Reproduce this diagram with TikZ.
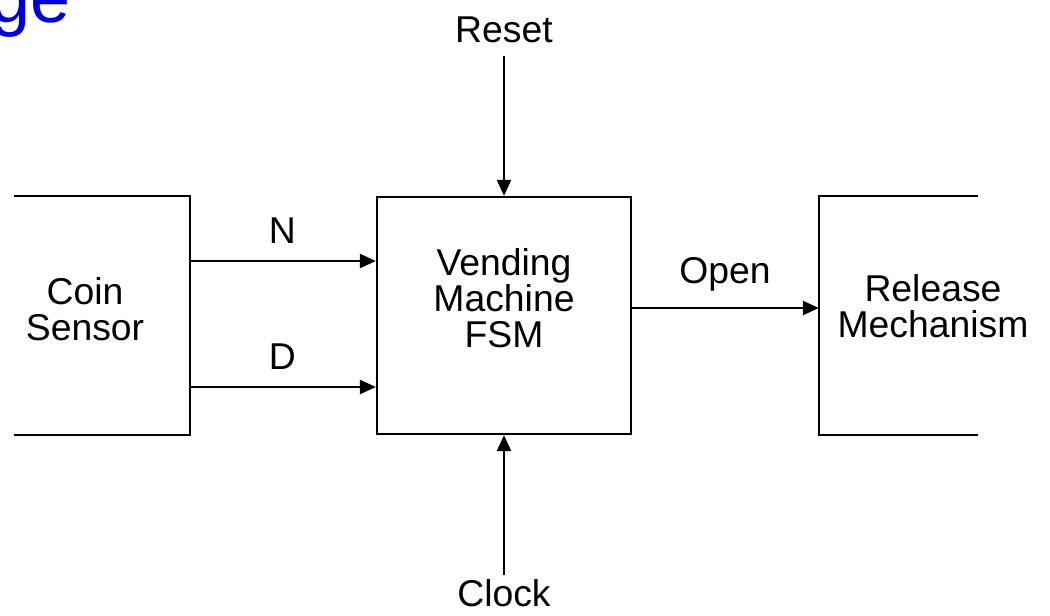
\documentclass[tikz,border=0pt]{standalone}
\usepackage{fontspec}
\setmainfont{Liberation Sans}
\usetikzlibrary{arrows.meta}
\definecolor{titleblue}{RGB}{0,0,210}
\begin{document}
\begin{tikzpicture}[x=0.75pt,y=-0.75pt,
  line width=1.7pt,
  txt/.style={font=\fontsize{28}{27}\selectfont, align=center, inner sep=0pt},
  blk/.style={inner sep=0pt, minimum height=177.75pt},
  arr/.style={-{Triangle[length=12pt,width=10.5pt]}}]
\useasboundingbox (0,0) rectangle (1050,615);
\begin{scope}
\clip (0,0) rectangle (1050,615);
\node[txt, text=titleblue, anchor=base east, font=\fontsize{54}{54}\selectfont] (title) at (72,22) {ge};
\end{scope}
% blocks
\node[blk, minimum width=130.5pt] (coin) at (102,315.5) {};
\node[blk, draw, minimum width=190.5pt] (fsm) at (504,315.5) {};
\node[blk, minimum width=117.75pt] (rel) at (898.5,315.5) {};
\draw (coin.north west) -- (coin.north east) -- (coin.south east) -- (coin.south west);
\draw (rel.north east) -- (rel.north west) -- (rel.south west) -- (rel.south east);
% texts
\node[txt] (cointxt) at (85,309) {Coin\\Sensor};
\node[txt] (fsmtxt) at (504,298) {Vending\\Machine\\FSM};
\node[txt] (reltxt) at (933,306) {Release\\Mechanism};
\node[txt] (reset) at (504,30) {Reset};
\node[txt] (clock) at (504,593) {Clock};
% connectors
\coordinate (nfrom) at (189,261);
\coordinate (dfrom) at (189,387);
\draw[arr] (nfrom) -- (nfrom -| fsm.west) node[txt, midway, above=12pt] (nlab) {N};
\draw[arr] (dfrom) -- (dfrom -| fsm.west) node[txt, midway, above=12pt] (dlab) {D};
\coordinate (ofrom) at (631,308);
\draw[arr] (ofrom) -- (ofrom -| rel.west) node[txt, midway, above=12pt] (olab) {Open};
\draw[arr] (504,56) -- (fsm.north);
\draw[arr] (504,575) -- (fsm.south);
\end{tikzpicture}
\end{document}
